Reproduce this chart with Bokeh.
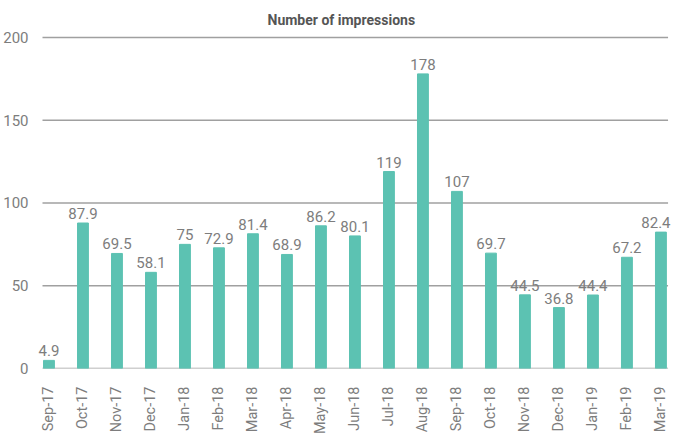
from bokeh.plotting import figure
from bokeh.models import ColumnDataSource, Range1d, FixedTicker, Label
from bokeh.embed import file_html
from bokeh.resources import INLINE

months = ["Sep-17", "Oct-17", "Nov-17", "Dec-17", "Jan-18", "Feb-18", "Mar-18", "Apr-18",
          "May-18", "Jun-18", "Jul-18", "Aug-18", "Sep-18", "Oct-18", "Nov-18", "Dec-18",
          "Jan-19", "Feb-19", "Mar-19"]
impressions = [4.9, 87.9, 69.5, 58.1, 75, 72.9, 81.4, 68.9, 86.2, 80.1, 119, 178, 107,
               69.7, 44.5, 36.8, 44.4, 67.2, 82.4]
value_labels = ["4.9", "87.9", "69.5", "58.1", "75", "72.9", "81.4", "68.9", "86.2", "80.1",
                "119", "178", "107", "69.7", "44.5", "36.8", "44.4", "67.2", "82.4"]
y_ticks = [0, 50, 100, 150, 200]

FONT = "Roboto"
GREY = "#7d7d7d"
LINE = "#a0a0a0"

x = list(range(len(months)))
src = ColumnDataSource(dict(x=x, y=impressions))

p = figure(width=673, height=437, output_backend="svg", toolbar_location=None,
           x_range=Range1d(-0.396, 18.37), y_range=Range1d(0, 203),
           min_border_left=33, min_border_right=0, min_border_bottom=68, min_border_top=32,
           title="Number of impressions")
p.outline_line_color = None
p.title.align = "left"
p.title.offset = 232
p.title.text_font = FONT
p.title.text_font_size = "14px"
p.title.text_font_style = "bold"
p.title.text_color = "#555555"
p.title.standoff = 9

# horizontal grid lines spanning the bar area
grid_left = x[0] - 0.19
grid_right = x[-1] + 0.21
p.segment(x0=[grid_left] * len(y_ticks), x1=[grid_right] * len(y_ticks),
          y0=y_ticks, y1=y_ticks, line_color=LINE, line_width=1.5)

p.vbar(x="x", top="y", width=0.32, bottom=0, source=src, color="#5cc2b2")
last = len(x) - 1
for i, (xi, yi, lab) in enumerate(zip(x, impressions, value_labels)):
    p.add_layout(Label(x=xi, y=yi, text=lab, text_align="center", text_baseline="bottom",
                       x_offset=(-5 if i == last else 0), y_offset=4,
                       text_font=FONT, text_font_size="15px", text_color=GREY))

p.xgrid.visible = False
p.ygrid.visible = False

p.yaxis.ticker = FixedTicker(ticks=y_ticks)
p.yaxis.axis_line_color = None
p.yaxis.major_tick_line_color = None
p.yaxis.minor_tick_line_color = None
p.yaxis.major_label_text_font = FONT
p.yaxis.major_label_text_font_size = "15px"
p.yaxis.major_label_text_color = GREY
p.yaxis.major_label_standoff = 1

p.xaxis.ticker = FixedTicker(ticks=x)
p.xaxis.major_label_overrides = {i: m for i, m in enumerate(months)}
p.xaxis.major_label_orientation = 3.14159265 / 2
p.xaxis.axis_line_color = None
p.xaxis.major_tick_line_color = None
p.xaxis.minor_tick_line_color = None
p.xaxis.major_label_text_font = FONT
p.xaxis.major_label_text_font_size = "14.5px"
p.xaxis.major_label_text_color = GREY
p.xaxis.major_label_standoff = 12

open("out.html", "w").write(file_html(p, INLINE))
